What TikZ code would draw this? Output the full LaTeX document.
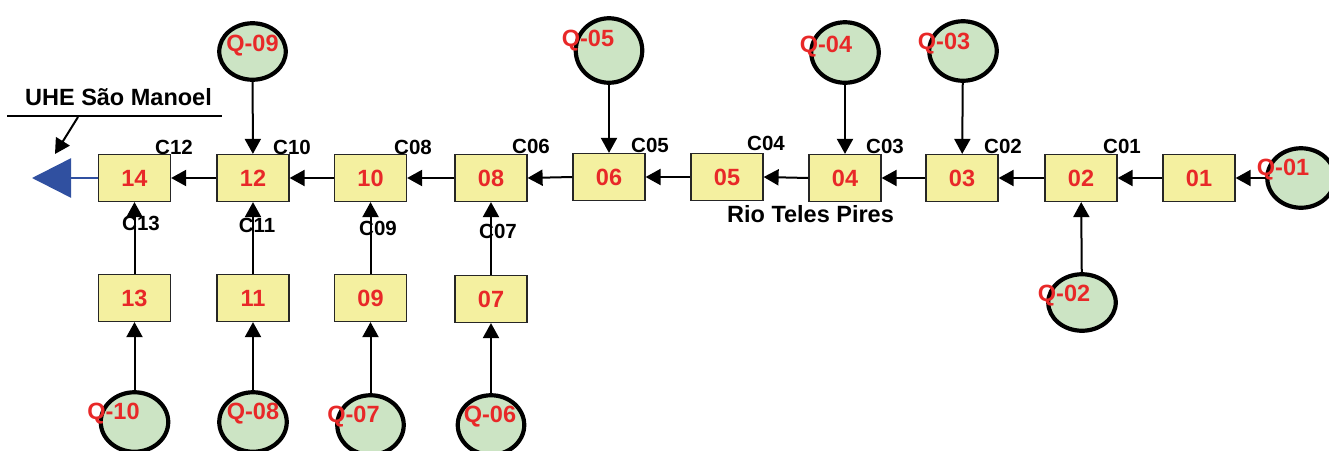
\documentclass[tikz,border=0pt]{standalone}
\usepackage{fontspec}
\setmainfont{Liberation Sans}
\usetikzlibrary{arrows.meta,shapes.geometric,calc}
\definecolor{boxfill}{HTML}{F4F0A0}
\definecolor{circfill}{HTML}{CCE4C4}
\definecolor{qred}{HTML}{E82828}
\definecolor{outblue}{HTML}{3050A0}
\begin{document}
\begin{tikzpicture}[x=1pt,y=-1pt,
  stbox/.style={draw=black!85,line width=1.2pt,fill=boxfill,minimum width=72pt,minimum height=47pt,inner sep=0pt,
    text=qred,font=\bfseries\fontsize{23.5}{27}\selectfont},
  qcirc/.style={ellipse,draw=black,line width=4.2pt,fill=circfill,inner sep=0pt,minimum width=67.5pt,minimum height=59.5pt},
  qlab/.style={text=qred,inner sep=0pt,font=\bfseries\fontsize{23.5}{27}\selectfont},
  clab/.style={text=black,inner sep=0pt,font=\bfseries\fontsize{20.5}{24}\selectfont},
  bigl/.style={text=black,inner sep=0pt,font=\bfseries\fontsize{23.5}{27}\selectfont},
  flow/.style={draw=black,line width=2pt,-{Triangle[length=15pt,width=16pt]}}]
\useasboundingbox (0,0) rectangle (1329,450);
% main row boxes
\node[stbox] (b14) at (134.5,178) {14};
\node[stbox] (b12) at (253,178) {12};
\node[stbox] (b10) at (370.5,178) {10};
\node[stbox] (b08) at (491,178) {08};
\node[stbox] (b06) at (609,177) {06};
\node[stbox] (b05) at (727,177) {05};
\node[stbox] (b04) at (845,178) {04};
\node[stbox] (b03) at (962,178) {03};
\node[stbox] (b02) at (1081,178) {02};
\node[stbox] (b01) at (1199,178) {01};
% lower boxes
\node[stbox] (b13) at (134.5,298) {13};
\node[stbox] (b11) at (253,298) {11};
\node[stbox] (b09) at (370.5,298) {09};
\node[stbox] (b07) at (491,299) {07};
% circles
\node[qcirc,minimum width=66.5pt,minimum height=56.5pt] (q09) at (252.5,51.5) {};
\node[qcirc,minimum width=66.5pt,minimum height=64.5pt] (q05) at (609,50.5) {};
\node[qcirc,minimum height=60.5pt] (q04) at (845,52.5) {};
\node[qcirc] (q03) at (963,51) {};
\node[qcirc] (q01) at (1301,178) {};
\node[qcirc,minimum height=56.5pt] (q02) at (1082,302.5) {};
\node[qcirc] (q10) at (134.5,422) {};
\node[qcirc] (q08) at (253,422) {};
\node[qcirc,minimum width=66.5pt] (q07) at (370.5,425) {};
\node[qcirc,minimum width=66.5pt] (q06) at (491,425) {};
% circle labels
\node[qlab] (lq09) at ($(q09)+(0,-6)$) {Q-09};
\node[qlab] (lq05) at ($(q05)+(-21,-10)$) {Q-05};
\node[qlab] (lq04) at ($(q04)+(-19,-6)$) {Q-04};
\node[qlab] (lq03) at ($(q03)+(-19,-7)$) {Q-03};
\node[qlab] (lq01) at ($(q01)+(-18,-8)$) {Q-01};
\node[qlab] (lq02) at ($(q02)+(-18,-7)$) {Q-02};
\node[qlab] (lq10) at ($(q10)+(-21,-8)$) {Q-10};
\node[qlab] (lq08) at ($(q08)+(0,-8)$) {Q-08};
\node[qlab] (lq07) at ($(q07)+(-17,-8)$) {Q-07};
\node[qlab] (lq06) at ($(q06)+(-1,-8)$) {Q-06};
% main flow
\draw[flow] (q01) -- (b01);
\draw[flow] (b01) -- (b02);
\draw[flow] (b02) -- (b03);
\draw[flow] (b03) -- (b04);
\draw[flow] (b04.west) -- (b05.east);
\draw[flow] (b05) -- (b06);
\draw[flow] (b06.west) -- (b08.east);
\draw[flow] (b08) -- (b10);
\draw[flow] (b10) -- (b12);
\draw[flow] (b12) -- (b14);
% tributaries
\draw[flow] (q09) -- (b12);
\draw[flow] (q05) -- (b06);
\draw[flow] (q04) -- (b04);
\draw[flow] (q03) -- (b03);
\draw[flow] (q02) -- (b02);
\draw[flow] (b13) -- (b14);
\draw[flow] (b11) -- (b12);
\draw[flow] (b09) -- (b10);
\draw[flow] (b07) -- (b08);
\draw[flow] (q10) -- (b13);
\draw[flow] (q08) -- (b11);
\draw[flow] (q07) -- (b09);
\draw[flow] (q06) -- (b07);
% outlet
\coordinate (outlet) at (32,178);
\draw[draw=outblue,line width=2.5pt,-{Triangle[length=39pt,width=39pt,fill=outblue]}] (b14) -- (outlet);
% reach labels
\node[clab] (c12) at (174,147.5) {C12};
\node[clab] (c10) at (292,147.5) {C10};
\node[clab] (c08) at (413,147.5) {C08};
\node[clab] (c06) at (531,146) {C06};
\node[clab] (c05) at (650,145.5) {C05};
\node[clab] (c04) at (766,143.5) {C04};
\node[clab] (c03) at (885,146) {C03};
\node[clab] (c02) at (1003,146) {C02};
\node[clab] (c01) at (1122,146) {C01};
\node[clab] (c13) at (141,223.5) {C13};
\node[clab] (c11) at (257,225) {C11};
\node[clab] (c09) at (378,228.5) {C09};
\node[clab] (c07) at (498,231.5) {C07};
% river and dam labels
\node[bigl,anchor=base] (rio) at (810.5,222) {Rio Teles Pires};
\node[bigl,anchor=base] (uhe) at (118.5,105) {UHE São Manoel};
\coordinate (ul) at (7,116);
\coordinate (ur) at (222,116);
\coordinate (ua) at (78,117);
\coordinate (ut) at (55,154);
\draw[line width=1.5pt] (ul) -- (ur);
\draw[flow] (ua) -- (ut);
\end{tikzpicture}
\end{document}
